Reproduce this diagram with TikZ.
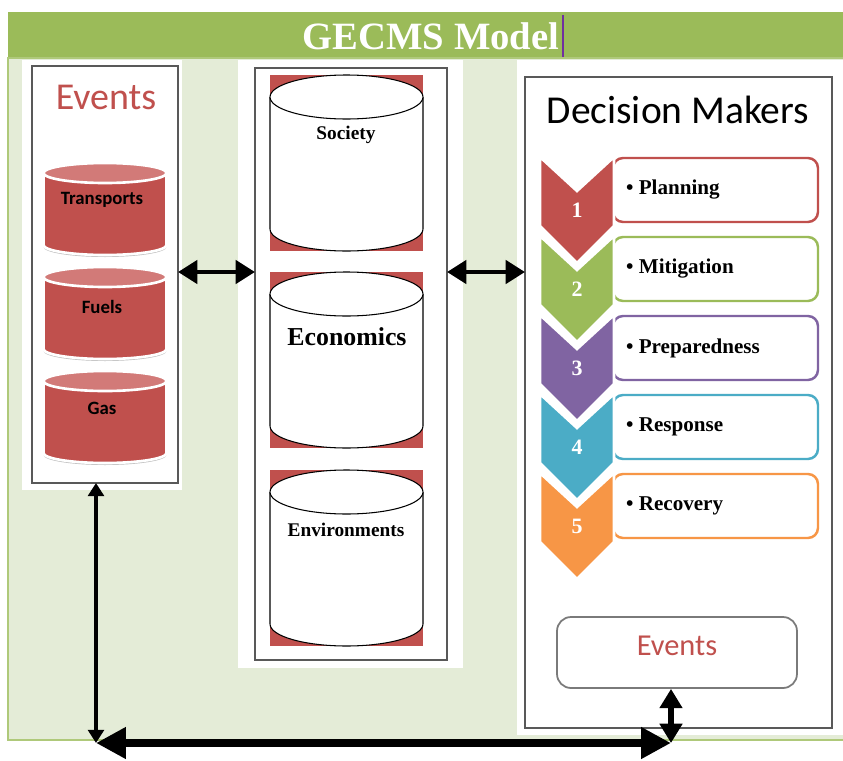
\documentclass[tikz,border=0pt]{standalone}
\usepackage{fontspec}
\setmainfont{Liberation Serif}
\newfontfamily\calibri{Carlito}
\usepackage{tikz}
\usetikzlibrary{arrows.meta,shapes,positioning}
\definecolor{hdrgreen}{HTML}{9BBB59}
\definecolor{bggreen}{HTML}{E4ECD7}
\definecolor{evred}{HTML}{C0504D}
\definecolor{evtop}{HTML}{D27A78}
\definecolor{chpurple}{HTML}{8064A2}
\definecolor{chblue}{HTML}{4BACC6}
\definecolor{chorange}{HTML}{F79646}
\definecolor{boxgray}{HTML}{595959}
\definecolor{cursor}{HTML}{7030A0}
\tikzstyle{frame}=[draw=boxgray,line width=1pt,fill=white,inner sep=0,outer sep=0]
\tikzstyle{evlbl}=[font=\calibri\bfseries\fontsize{10.7}{12}\selectfont]
\tikzstyle{sqr}=[fill=evred,minimum width=3.06cm,minimum height=3.52cm,inner sep=0]
\tikzstyle{dblbl}=[font=\bfseries\fontsize{11}{13}\selectfont]
\tikzstyle{stepbox}=[draw,rounded corners=0.2cm,line width=1.4pt,fill=white,
minimum width=4.1cm,minimum height=1.28cm]
\tikzstyle{steptxt}=[anchor=west,font=\bfseries\fontsize{12}{14}\selectfont]
\tikzstyle{stepnum}=[text=white,font=\bfseries\fontsize{12.5}{14}\selectfont]
\tikzstyle{link}=[draw,black,line width=2.8pt,
{Triangle[length=11pt,width=13pt]}-{Triangle[length=11pt,width=13pt]}]
\tikzstyle{thinlink}=[draw,black,line width=2.3pt,
{Triangle[length=7.5pt,width=9pt]}-{Triangle[length=7.5pt,width=9pt]}]
\tikzstyle{baselink}=[draw,black,line width=4.6pt,
{Triangle[length=17pt,width=17pt]}-{Triangle[length=17pt,width=17pt]}]
\tikzstyle{shortlink}=[draw,black,line width=3.4pt,
{Triangle[length=11pt,width=12.5pt]}-{Triangle[length=11pt,width=12.5pt]}]

\begin{document}
\begin{tikzpicture}[x=0.02cm,y=-0.02cm]
	\useasboundingbox (0,0) rectangle (843,761);
	% header and background
	\fill[hdrgreen] (8,12) rectangle (843,58);
	\node[text=white,font=\bfseries\fontsize{22}{26}\selectfont] (title) at (431,36) {GECMS Model};
	\draw[cursor,line width=1.2pt] (563,15) -- (563,57);
	\draw[hdrgreen!80,fill=bggreen,line width=0.6pt] (8,58) rectangle (845,740);
	\fill[white] (22,60) rectangle (182,490);
	\fill[white] (238,60) rectangle (463,668);
	\fill[white] (517,60) rectangle (843,735);
	
	% events column
	\node[frame,minimum width=2.92cm,minimum height=8.34cm] (evbox) at (105,274.5) {};
	\node[text=evred,font=\calibri\fontsize{21.6}{24}\selectfont] (evtitle) at (106,97) {Events};
	\foreach \cy in {209,313,417}{
		\fill[black!25] (43.5,\cy-34) -- (43.5,\cy+38) arc[start angle=180,end angle=0,x radius=61.5,y radius=10]
		-- (166.5,\cy-34) -- cycle;
		\filldraw[evred,draw=white,line width=1.5pt] (43.5,\cy-36) -- (43.5,\cy+36)
		arc[start angle=180,end angle=0,x radius=61.5,y radius=10] -- (166.5,\cy-36) -- cycle;
		\filldraw[evtop,draw=white,line width=1.5pt] (105,\cy-36) ellipse[x radius=61.5,y radius=10];
	}
	\node[evlbl] (trlbl) at (102,200) {Transports};
	\node[evlbl] (fulbl) at (102,307) {Fuels};
	\node[evlbl] (galbl) at (102,408) {Gas};
	
	% databases
	\node[frame,minimum width=3.84cm,minimum height=11.84cm] (midbox) at (351,364) {};
	\node[sqr] (socsq) at (346.5,163) {};
	\node[sqr] (ecosq) at (346.5,360) {};
	\node[sqr] (envsq) at (346.5,558) {};
	\foreach \cy in {163,360,558}{
		\fill[white] (270,\cy-66) -- (270,\cy+66)
		arc[start angle=180,end angle=0,x radius=76.5,y radius=22] -- (423,\cy-66) -- cycle;
		\draw[line width=0.6pt] (270,\cy-66) -- (270,\cy+66)
		arc[start angle=180,end angle=0,x radius=76.5,y radius=22] -- (423,\cy-66);
		\filldraw[fill=white,draw=black,line width=0.6pt] (346.5,\cy-66) ellipse[x radius=76.5,y radius=22];
	}
	\node[dblbl] (soclbl) at (346,135) {Society};
	\node[dblbl,font=\bfseries\fontsize{14.7}{16}\selectfont] (ecolbl) at (347,337) {Economics};
	\node[dblbl] (envlbl) at (346,530) {Environments};
	
	% decision makers
	\node[frame,minimum width=6.14cm,minimum height=13.02cm] (dmbox) at (678.5,402.5) {};
	\node[font=\calibri\fontsize{22.5}{26}\selectfont] (dmtitle) at (678,110) {Decision Makers};
	\foreach \i/\col/\txt in {1/evred/Planning,2/hdrgreen/Mitigation,3/chpurple/Preparedness,
		4/chblue/Response,5/chorange/Recovery}{
		\pgfmathsetmacro\yy{157+79*(\i-1)}
		\node[stepbox,draw=\col] (box\i) at (715.5,\yy+33) {};
		\node[steptxt] (stp\i) at (620,\yy+33) {\textbullet\ \txt};
	}
	\foreach \i/\col in {5/chorange,4/chblue,3/chpurple,2/hdrgreen,1/evred}{
		\pgfmathsetmacro\yy{157+79*(\i-1)}
		\fill[\col,draw=white,line width=1.5pt] (540,\yy) -- (577,\yy+34) -- (614,\yy)
		-- (614,\yy+69) -- (577,\yy+106) -- (540,\yy+69) -- cycle;
		\node[stepnum] (num\i) at (577,\yy+53) {\i};
	}
	\node[draw=boxgray!80,line width=1pt,rounded corners=0.28cm,fill=white,
	minimum width=4.8cm,minimum height=1.42cm] (evsmall) at (677,652.5) {};
	\node[text=evred,font=\calibri\fontsize{17.3}{20}\selectfont] (evsmlbl) at (677,646) {Events};
	
	% links
	\coordinate (lvl) at (0,272);
	\coordinate (bl) at (96,743);
	\coordinate (br) at (671,743);
	\path[link] (evbox.east |- lvl) -- (midbox.west |- lvl);
	\path[link] (midbox.east |- lvl) -- (dmbox.west |- lvl);
	\path[thinlink] (evbox.south -| bl) -- (bl);
	\path[baselink] (bl) -- (br);
	\path[shortlink] (evsmall.south -| br) -- (br);
\end{tikzpicture}
\end{document}
